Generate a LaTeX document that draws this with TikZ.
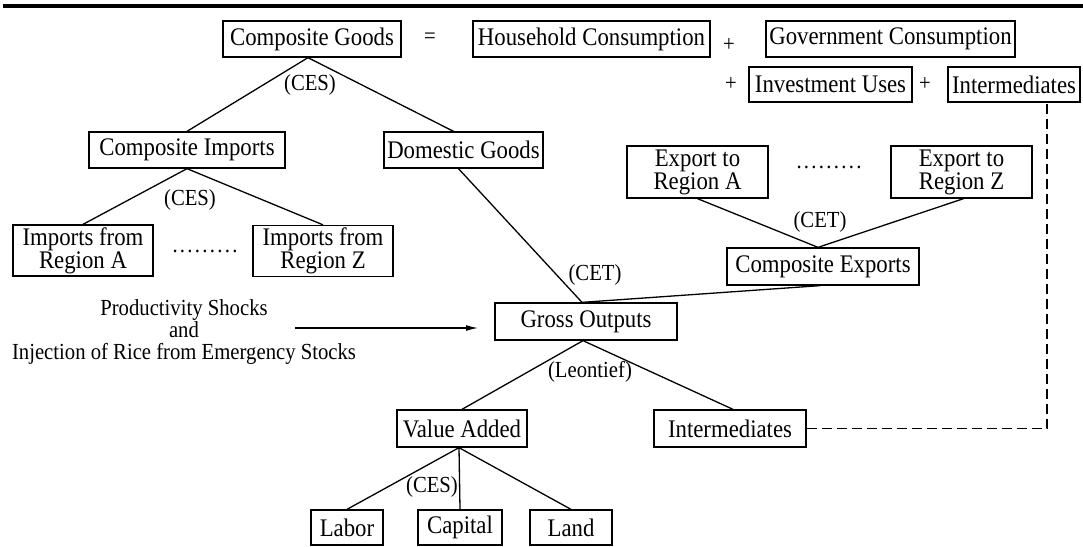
\documentclass[tikz,border=0pt]{standalone}
\usepackage{fontspec}
\setmainfont{Liberation Serif}[FakeStretch=0.9]
\usetikzlibrary{arrows.meta}
\newcommand\mydots{.\kern2.3pt.\kern2.3pt.\kern2.3pt.\kern2.3pt.\kern2.3pt.\kern2.3pt.\kern2.3pt.\kern2.3pt.}
\begin{document}
\begin{tikzpicture}[x=1pt,y=-1pt,
  bx/.style={draw, line width=1.3pt, inner sep=0pt, align=center,
    font=\fontsize{25.3}{23}\selectfont},
  one/.style={bx, minimum height=36pt},
  two/.style={bx, minimum height=52pt},
  lbl/.style={inner sep=0pt, align=center, font=\fontsize{23}{19.5}\selectfont},
  ln/.style={line width=1.3pt},
  dsh/.style={line width=1.3pt, dash pattern=on 10pt off 5pt}]
\useasboundingbox (0,0) rectangle (1083,546);
\fill (3,4) rectangle (1083,8.3);

% top row
\node[one, minimum width=178pt] (cg) at (312,39) {Composite Goods};
\node[lbl] (eq) at (430,38) {=};
\node[one, minimum width=237pt] (hc) at (591.5,39) {Household Consumption};
\node[lbl] (p1) at (729,45) {+};
\node[one, minimum width=249pt] (gc) at (890.5,39) {Government Consumption};
\node[lbl] (p2) at (731,84) {+};
\node[one, minimum width=163pt, minimum height=35pt] (iu) at (830.5,84.5) {Investment Uses};
\node[lbl] (p3) at (925,84) {+};
\node[one, minimum width=132pt, minimum height=35pt] (it) at (1014,84.5) {Intermediates};

% imports / domestic
\node[lbl] (ces1) at (310,85) {(CES)};
\node[one, minimum width=196pt] (ci) at (187,150) {Composite Imports};
\node[one, minimum width=159pt] (dg) at (463.5,150) {Domestic Goods};
\node[lbl] (ces2) at (190,200) {(CES)};
\node[two, minimum width=140pt, minimum height=51pt] (ia) at (83,250.5) {Imports from\\Region A};
\node[lbl] (d1) at (205,251) {\mydots};
\node[two, minimum width=140pt, minimum height=51pt] (iz) at (323,251) {Imports from\\Region Z};

% exports
\node[two, minimum width=141pt] (ea) at (697.5,172) {Export to\\Region A};
\node[lbl] (d2) at (829,167) {\mydots};
\node[two, minimum width=141pt] (ez) at (961.5,172) {Export to\\Region Z};
\node[lbl] (cet1) at (820,222) {(CET)};
\node[one, minimum width=192pt, minimum height=37pt] (ce) at (823,266.5) {Composite Exports};

% gross outputs
\node[lbl] (cet2) at (595,275) {(CET)};
\node[one, minimum width=182pt, minimum height=37pt] (go) at (586,321.5) {Gross Outputs};
\node[lbl, font=\fontsize{23}{22}\selectfont] (ps) at (184,332) {Productivity Shocks\\and\\Injection of Rice from Emergency Stocks};
\coordinate (as) at (295,328);
\coordinate (ae) at (478,328);

% lower part
\node[lbl] (leo) at (590,372) {(Leontief)};
\node[one, minimum width=130pt, minimum height=37pt] (va) at (462,428.5) {Value Added};
\node[one, minimum width=152pt, minimum height=37pt] (im) at (730,428.5) {Intermediates};
\node[lbl] (ces3) at (432,487) {(CES)};
\node[one, minimum width=72pt, minimum height=35pt] (la) at (347,527.5) {Labor};
\node[one, minimum width=84pt, minimum height=35pt] (ca) at (460,527.5) {Capital};
\node[one, minimum width=82pt, minimum height=35pt] (ld) at (571,527.5) {Land};
\coordinate (dx) at (1047,0);

% connectors
\draw[ln] (ci.north) -- ([xshift=-4pt]cg.south) -- ([xshift=-10pt]dg.north);
\draw[ln] (ia.north) -- (ci.south) -- (iz.north);
\draw[ln] ([xshift=-5pt]dg.south) -- ([xshift=-4pt]go.north);
\draw[ln] ([xshift=-3pt]ce.south) -- ([xshift=-4pt]go.north);
\draw[ln] (ea.south) -- ([xshift=-5pt]ce.north) -- ([xshift=2pt]ez.south);
\draw[ln] (va.north) -- ([xshift=-3pt]go.south) -- ([xshift=3pt]im.north);
\draw[ln] (la.north) -- ([xshift=-3pt]va.south) -- (ca.north);
\draw[ln] ([xshift=-3pt]va.south) -- (ld.north);
\draw[ln, -{Latex[length=12pt,width=6pt]}] (as) -- (ae);
\draw[dsh] (im.east) -| (dx |- it.south);
\end{tikzpicture}
\end{document}
